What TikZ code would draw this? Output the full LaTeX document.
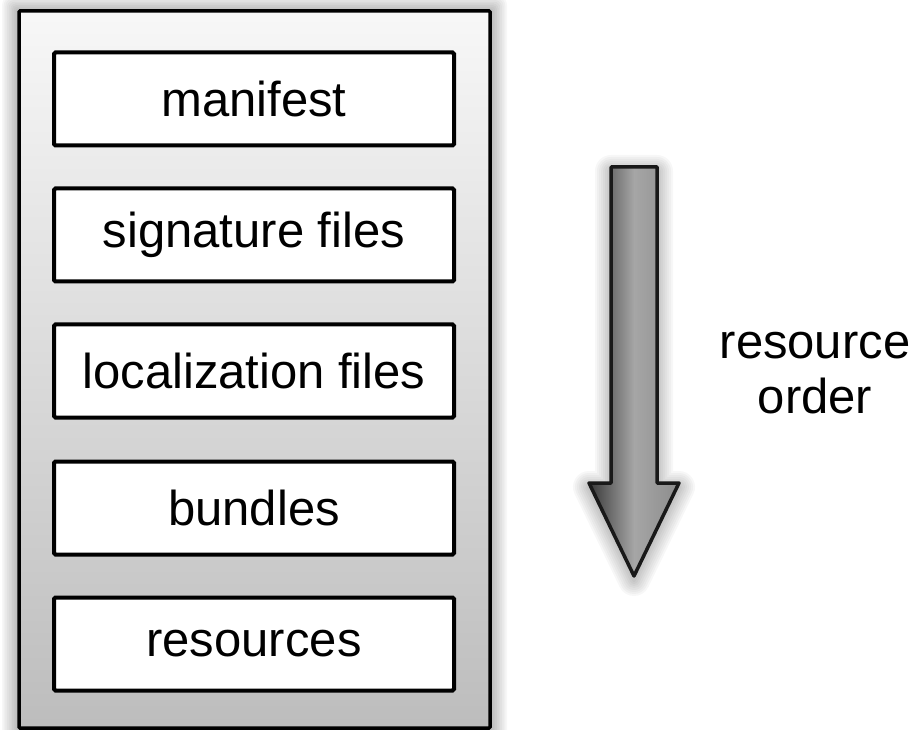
\documentclass[tikz,border=0pt]{standalone}
\usepackage{fontspec}
\setmainfont{Liberation Sans}
\newcommand\rsarrowpath[1]{\path[#1] (611,167) -- (657,167) -- (657,483) -- (679,483) -- (634,576) -- (589,483) -- (611,483) -- cycle;}
\begin{document}
\begin{tikzpicture}[x=1pt,y=-1pt,
  itembox/.style={draw=black, line width=4pt, fill=white, rounded corners=1.5pt,
    minimum width=400pt, minimum height=93pt, inner sep=0pt,
    font=\fontsize{49}{55}\selectfont},
  lbl/.style={font=\fontsize{49}{55}\selectfont, inner sep=0pt, anchor=base},
  shadowlayer/.style={black, opacity=0.03}]
\useasboundingbox (0,0) rectangle (919,730);
% container shadow
\foreach \i in {1,...,10} {
  \fill[shadowlayer, rounded corners=\i pt] (19-1.7*\i, 12-1.7*\i) rectangle (490+1.7*\i, 760);
}
% container
\path[draw=black, line width=3.5pt, rounded corners=1pt, top color=black!3, bottom color=black!26]
  (19,11) rectangle (490,728);
% items
\node[itembox] (manifest) at (254,99) {manifest};
\node[itembox] (signature) at (254,235) {signature files};
\node[itembox] (localization) at (254,371) {localization files};
\node[itembox] (bundles) at (254,508) {bundles};
\node[itembox] (resources) at (254,644) {resources};
% arrow shadow
\foreach \w in {32,28,...,4} {
  \begin{scope}[yshift=-4pt]
  \rsarrowpath{draw=black, opacity=0.03, line width=\w pt, line join=round}
  \end{scope}
}
% arrow
\rsarrowpath{left color=black!78, right color=black!45, middle color=black!35}
\rsarrowpath{draw=black!90, line width=3.5pt, line join=round}
% label
\node[lbl] (labA) at (815,358) {resource};
\node[lbl] (labB) at (815,413) {order};
\end{tikzpicture}
\end{document}
